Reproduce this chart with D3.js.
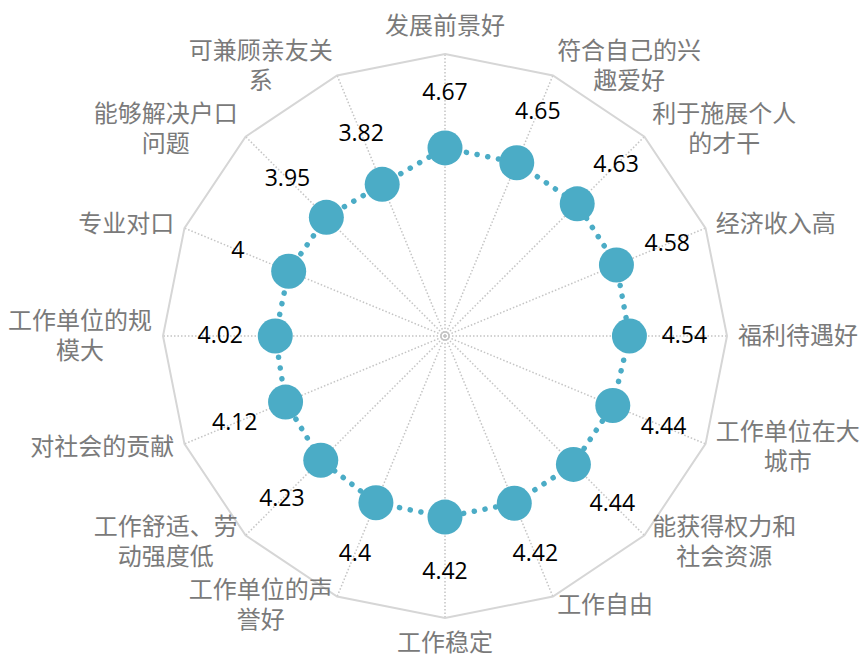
<!DOCTYPE html>
<html>
<head>
<meta charset="utf-8">
<script src="https://cdn.jsdelivr.net/npm/d3@7"></script>
<style>
  html, body { margin: 0; padding: 0; background: #fff; }
  svg { display: block; }
</style>
</head>
<body>
<svg id="chart" width="861" height="656"></svg>
<script>
// ---- data ----
const categories = [
  "发展前景好", "符合自己的兴趣爱好", "利于施展个人的才干", "经济收入高",
  "福利待遇好", "工作单位在大城市", "能获得权力和社会资源", "工作自由",
  "工作稳定", "工作单位的声誉好", "工作舒适、劳动强度低", "对社会的贡献",
  "工作单位的规模大", "专业对口", "能够解决户口问题", "可兼顾亲友关系"
];
const categoryLines = [
  ["发展前景好"], ["符合自己的兴", "趣爱好"], ["利于施展个人", "的才干"], ["经济收入高"],
  ["福利待遇好"], ["工作单位在大", "城市"], ["能获得权力和", "社会资源"], ["工作自由"],
  ["工作稳定"], ["工作单位的声", "誉好"], ["工作舒适、劳", "动强度低"], ["对社会的贡献"],
  ["工作单位的规", "模大"], ["专业对口"], ["能够解决户口", "问题"], ["可兼顾亲友关", "系"]
];
const values = [4.67, 4.65, 4.63, 4.58, 4.54, 4.44, 4.44, 4.42, 4.42, 4.4, 4.23, 4.12, 4.02, 4, 3.95, 3.82];
const axisDomain = [-2, 8];

// ---- layout ----
const cx = 445, cy = 336, R = 282;
const svg = d3.select("#chart");
const n = categories.length;
const angle = d3.scaleLinear().domain([0, n]).range([0, 2 * Math.PI]);
const r = d3.scaleLinear().domain(axisDomain).range([0, R]);
const pt = (i, rad) => [cx + rad * Math.sin(angle(i)), cy - rad * Math.cos(angle(i))];

const g = svg.append("g");

// spokes
g.selectAll("line.spoke").data(categories).join("line")
  .attr("class", "spoke")
  .attr("x1", cx).attr("y1", cy)
  .attr("x2", (d, i) => pt(i, R)[0])
  .attr("y2", (d, i) => pt(i, R)[1])
  .attr("stroke", "#c4c4c4").attr("stroke-width", 1.5)
  .attr("stroke-dasharray", "1.5 2");

// center ring
g.append("circle").attr("cx", cx).attr("cy", cy).attr("r", 4)
  .attr("fill", "none").attr("stroke", "#c4c4c4").attr("stroke-width", 1.5);

// outer polygon
g.append("path")
  .attr("d", d3.line()(categories.map((d, i) => pt(i, R))) + "Z")
  .attr("fill", "none").attr("stroke", "#d6d6d6").attr("stroke-width", 2);

// series line (round-dot)
const linePts = values.map((v, i) => pt(i, r(v)));
g.append("path")
  .attr("d", d3.line()(linePts) + "Z")
  .attr("fill", "none").attr("stroke", "#4bacc6").attr("stroke-width", 5.5)
  .attr("stroke-linecap", "round").attr("stroke-dasharray", "0.1 10.8");

// markers
g.selectAll("circle.mk").data(values).join("circle")
  .attr("class", "mk")
  .attr("cx", (v, i) => pt(i, r(v))[0])
  .attr("cy", (v, i) => pt(i, r(v))[1])
  .attr("r", 17.5)
  .attr("fill", "#4bacc6");

// value labels
g.selectAll("text.val").data(values).join("text")
  .attr("class", "val")
  .attr("x", (v, i) => pt(i, r(v) + 55)[0])
  .attr("y", (v, i) => pt(i, r(v) + 55)[1])
  .attr("dy", "0.32em")
  .attr("text-anchor", "middle")
  .attr("font-family", "'Open Sans', 'Noto Sans', sans-serif")
  .attr("font-size", 23)
  .attr("fill", "#000")
  .text(v => String(v));

// category labels
const fs = 24, lh = 30, shift = -3.5;
categoryLines.forEach((lines, i) => {
  const a = angle(i);
  const s = Math.sin(a), c = Math.cos(a);
  const [vx, vy] = pt(i, R);
  const t = g.append("text")
    .attr("text-anchor", "middle")
    .attr("dominant-baseline", "central")
    .attr("font-family", "'Noto Sans CJK SC', sans-serif")
    .attr("font-size", fs)
    .attr("fill", "#7a7a7a");
  const spans = lines.map(ln => t.append("tspan").text(ln));
  const w = d3.max(spans, sp => sp.node().getComputedTextLength());
  const h = lines.length * lh;
  let bx, by;
  if (Math.abs(s) > 0.1) {
    bx = vx + Math.sign(s) * w / 2 + 11 * s;
    by = vy - c * 10;
  } else {
    bx = vx;
    by = vy - c * (h / 2 + (c > 0 ? 13 : 10));
  }
  spans.forEach((sp, k) => {
    sp.attr("x", bx).attr("y", by + shift + (k - (lines.length - 1) / 2) * lh);
  });
});
</script>
</body>
</html>
